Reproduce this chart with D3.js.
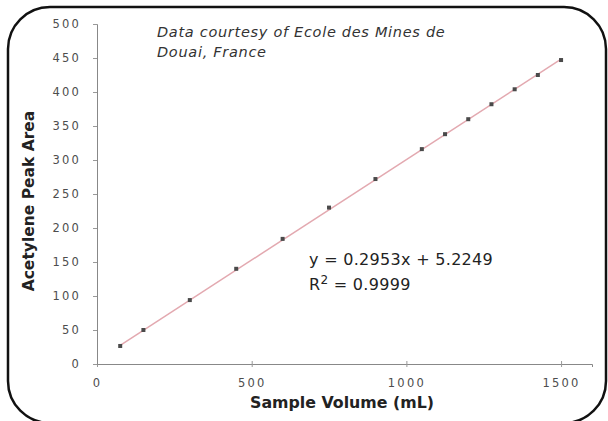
<!DOCTYPE html>
<html>
<head>
<meta charset="utf-8">
<script src="https://cdn.jsdelivr.net/npm/d3@7"></script>
<style>
  body { margin: 0; background: #fff; }
  svg { display: block; }
</style>
</head>
<body>
<div id="chart"></div>
<script>
// donnees
const volume = [75, 150, 300, 450, 600, 750, 900, 1050, 1125, 1200, 1275, 1350, 1425, 1500];
const peakArea = [26.5, 50, 94, 140, 184, 230, 272, 316, 338, 360, 382, 404, 425, 447];

// droite de regression (extremites)
const trendX = [75, 1500];
const trendY = [27.4, 448.2];

const xTicks = [0, 500, 1000, 1500];
const yTicks = [0, 50, 100, 150, 200, 250, 300, 350, 400, 450, 500];

const width = 608;
const height = 421;

const svg = d3.select("#chart")
  .append("svg")
  .attr("width", width)
  .attr("height", height)

// cadre arrondi (le bas sort de l'image)
svg.append("rect")
  .attr("x", 8)
  .attr("y", 7)
  .attr("width", 598)
  .attr("height", 416)
  .attr("rx", 42)
  .attr("ry", 42)
  .attr("fill", "#fff")
  .attr("stroke", "#111")
  .attr("stroke-width", 2.5)

const x = d3.scaleLinear()
  .domain([0, 1600])
  .range([97, 592])

const y = d3.scaleLinear()
  .domain([0, 500])
  .range([364, 24])

// axe x
const xAxis = svg.append("g")
  .attr("transform", "translate(0,364)")
  .call(d3.axisBottom(x).tickValues(xTicks).tickFormat(d3.format("d")).tickSize(3).tickPadding(12))
xAxis.select(".domain").attr("stroke", "#888")
xAxis.selectAll(".tick line").attr("stroke", "#999").attr("y1", -3)
xAxis.selectAll("text")
  .attr("font-family", "DejaVu Sans")
  .attr("font-size", "11.5px")
  .attr("letter-spacing", "2.2px")
  .attr("fill", "#4d4d4d")

// axe y
const yAxis = svg.append("g")
  .attr("transform", "translate(97,0)")
  .call(d3.axisLeft(y).tickValues(yTicks).tickSize(4).tickPadding(12))
yAxis.select(".domain").attr("stroke", "#888")
yAxis.selectAll(".tick line").attr("stroke", "#999")
yAxis.selectAll("text")
  .attr("font-family", "DejaVu Sans")
  .attr("font-size", "11.5px")
  .attr("letter-spacing", "2.2px")
  .attr("fill", "#4d4d4d")

// droite de tendance
svg.append("line")
  .attr("x1", x(trendX[0]))
  .attr("y1", y(trendY[0]))
  .attr("x2", x(trendX[1]))
  .attr("y2", y(trendY[1]))
  .attr("stroke", "#e3a9b0")
  .attr("stroke-width", 1.5)

// points
svg.selectAll("rect.pt")
  .data(volume)
  .enter()
  .append("rect")
  .attr("class", "pt")
  .attr("x", function(d){ return x(d) - 2 })
  .attr("y", function(d, i){ return y(peakArea[i]) - 2 })
  .attr("width", 4)
  .attr("height", 4)
  .attr("fill", "#4a4a4a")

// titres des axes
svg.append("text")
  .attr("x", 342)
  .attr("y", 408)
  .attr("text-anchor", "middle")
  .attr("font-family", "DejaVu Sans")
  .attr("font-weight", "bold")
  .attr("font-size", "15.8px")
  .attr("fill", "#222")
  .text("Sample Volume (mL)")

svg.append("text")
  .attr("transform", "translate(34,201) rotate(-90)")
  .attr("text-anchor", "middle")
  .attr("font-family", "DejaVu Sans")
  .attr("font-weight", "bold")
  .attr("font-size", "15.5px")
  .attr("fill", "#222")
  .text("Acetylene Peak Area")

// source
const source = svg.append("text")
  .attr("font-family", "DejaVu Sans")
  .attr("font-style", "italic")
  .attr("font-size", "14.5px")
  .attr("letter-spacing", "0.7px")
  .attr("fill", "#333")
source.append("tspan").attr("x", 157).attr("y", 37).text("Data courtesy of Ecole des Mines de")
source.append("tspan").attr("x", 157).attr("y", 57).text("Douai, France")

// equation
svg.append("text")
  .attr("x", 309)
  .attr("y", 265)
  .attr("font-family", "DejaVu Sans")
  .attr("font-size", "16px")
  .attr("letter-spacing", "0.3px")
  .attr("fill", "#222")
  .text("y = 0.2953x + 5.2249")

const r2 = svg.append("text")
  .attr("x", 309)
  .attr("y", 290)
  .attr("font-family", "DejaVu Sans")
  .attr("font-size", "16px")
  .attr("letter-spacing", "0.3px")
  .attr("fill", "#222")
r2.append("tspan").text("R")
r2.append("tspan").attr("dy", -6).attr("font-size", "12px").text("2")
r2.append("tspan").attr("dy", 6).text(" = 0.9999")
</script>
</body>
</html>
